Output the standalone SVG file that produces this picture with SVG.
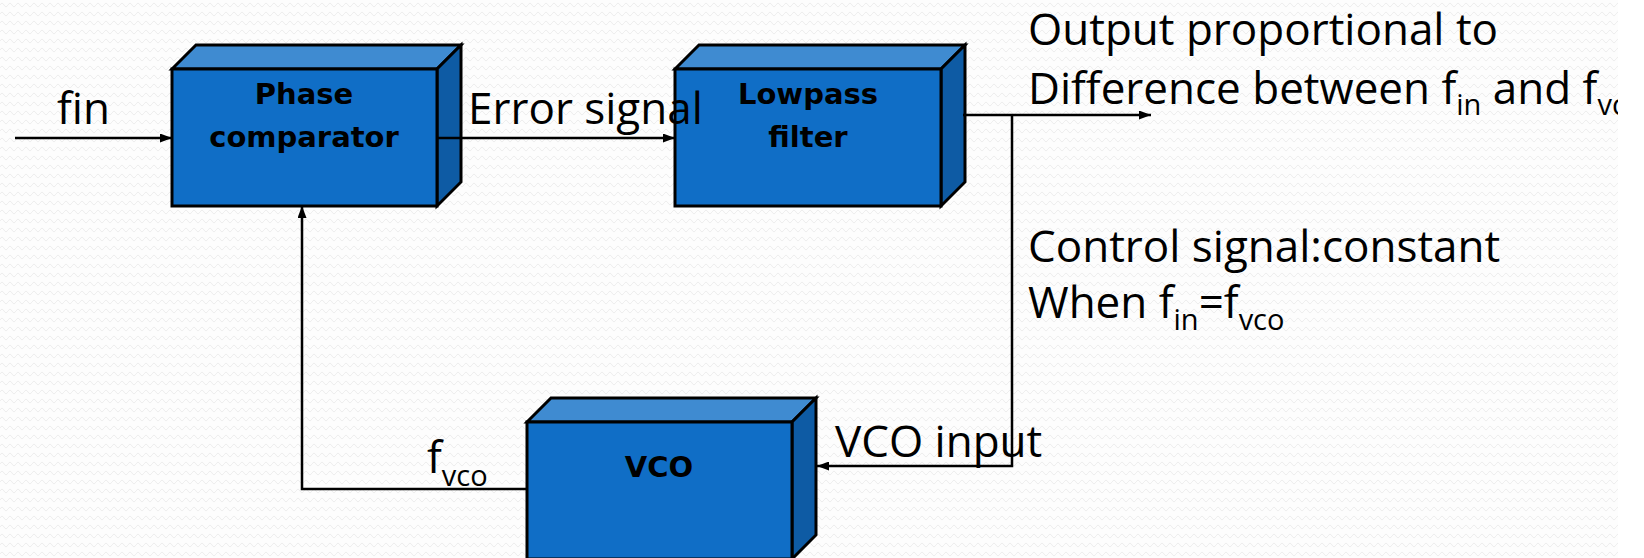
<svg xmlns="http://www.w3.org/2000/svg" width="1644" height="558" viewBox="0 0 1644 558">
  <defs>
    <!-- faint wavy paper texture -->
    <pattern id="wave" width="8" height="9" patternUnits="userSpaceOnUse">
      <path d="M0,5 Q2,1.5 4,5 T8,5" fill="none" stroke="#ebebeb" stroke-width="0.9"/>
    </pattern>
    <clipPath id="page">
      <rect x="0" y="0" width="1618" height="558"/>
    </clipPath>
    <marker id="arrow" viewBox="0 0 12 9" refX="12" refY="4.5" markerWidth="12" markerHeight="9" markerUnits="userSpaceOnUse" orient="auto">
      <path d="M0,0 L12,4.5 L0,9 z" fill="#000"/>
    </marker>
  </defs>
  <style>
    .front { fill: #106ec6; stroke: #000; stroke-width: 3; stroke-linejoin: miter; }
    .top { fill: #3f8bd1; stroke: #000; stroke-width: 3; stroke-linejoin: miter; }
    .side { fill: #0e5ba4; stroke: #000; stroke-width: 3; stroke-linejoin: miter; }
    .box-label { font-family: "DejaVu Sans", sans-serif; font-weight: bold; font-size: 29px; fill: #000; text-anchor: middle; }
    .label { font-family: "Open Sans", sans-serif; font-size: 44px; fill: #000; }
    .sub { font-size: 29px; }
    .wire { fill: none; stroke: #000; stroke-width: 2.5; }
  </style>

  <rect x="0" y="0" width="1644" height="558" fill="#ffffff"/>

  <g clip-path="url(#page)">
    <rect x="0" y="0" width="1618" height="558" fill="#fdfdfd"/>
    <rect x="0" y="0" width="1618" height="558" fill="url(#wave)"/>

    <!-- Phase comparator block -->
    <g id="phase-comparator">
      <polygon class="top" points="172,69 196,45 461,45 437,69"/>
      <polygon class="side" points="437,69 461,45 461,182 437,206"/>
      <rect class="front" x="172" y="69" width="265" height="137"/>
      <text class="box-label" x="304" y="104">Phase</text>
      <text class="box-label" x="304" y="147">comparator</text>
    </g>

    <!-- Lowpass filter block -->
    <g id="lowpass-filter">
      <polygon class="top" points="675,69 699,45 965,45 941,69"/>
      <polygon class="side" points="941,69 965,45 965,182 941,206"/>
      <rect class="front" x="675" y="69" width="266" height="137"/>
      <text class="box-label" x="808" y="104">Lowpass</text>
      <text class="box-label" x="808" y="147">filter</text>
    </g>

    <!-- VCO block -->
    <g id="vco">
      <polygon class="top" points="527,422 551,398 816,398 792,422"/>
      <polygon class="side" points="792,422 816,398 816,535 792,559"/>
      <rect class="front" x="527" y="422" width="265" height="137"/>
      <text class="box-label" x="659" y="477">VCO</text>
    </g>

    <!-- signal paths -->
    <g id="connectors">
      <line class="wire" x1="15" y1="138" x2="172" y2="138" marker-end="url(#arrow)"/>
      <line class="wire" x1="437" y1="138" x2="675" y2="138" marker-end="url(#arrow)"/>
      <line class="wire" x1="963" y1="115" x2="1151" y2="115" marker-end="url(#arrow)"/>
      <polyline class="wire" points="1012,115 1012,466 817,466" marker-end="url(#arrow)"/>
      <polyline class="wire" points="527,489 302,489 302,206" marker-end="url(#arrow)"/>
    </g>

    <!-- signal labels -->
    <g id="labels">
      <text class="label" x="57" y="124">fin</text>
      <text class="label" x="468" y="124">Error signal</text>
      <text class="label" x="835" y="457">VCO input</text>
      <text class="label" x="427" y="473">f<tspan class="sub" dy="13">vco</tspan></text>
      <text class="label" x="1028" y="45">Output proportional to</text>
      <text class="label" x="1028" y="104">Difference between f<tspan class="sub" dy="11">in</tspan><tspan dy="-11"> and f</tspan><tspan class="sub" dy="11">vco</tspan></text>
      <text class="label" x="1028" y="262">Control signal:constant</text>
      <text class="label" x="1028" y="318">When f<tspan class="sub" dy="12">in</tspan><tspan dy="-12">=f</tspan><tspan class="sub" dy="12">vco</tspan></text>
    </g>
  </g>
</svg>
